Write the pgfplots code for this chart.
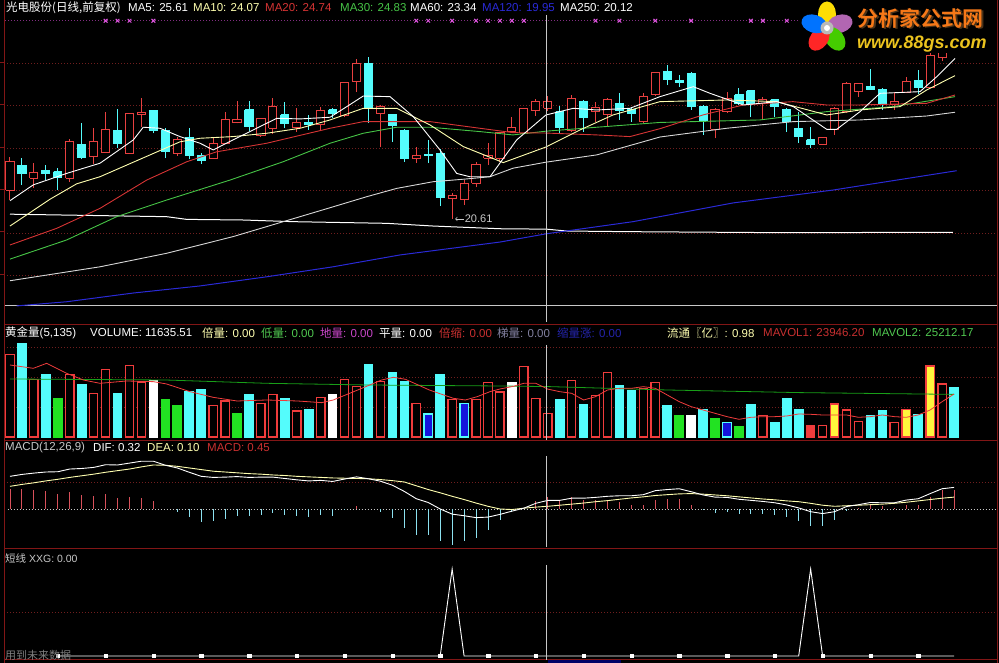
\documentclass[border=0pt]{standalone}
\usepackage{pgfplots}
\pgfplotsset{compat=1.18}
\usepackage{pgfplotstable}
\usepackage{fontspec}
\setmainfont{Liberation Sans}
\newfontfamily\cjk{Noto Sans CJK SC}
\newfontfamily\cjkbold{Noto Sans CJK SC Bold}

\definecolor{candlered}{RGB}{232,64,64}
\definecolor{candlecyan}{RGB}{84,252,252}
\definecolor{maten}{RGB}{255,255,176}
\definecolor{matwenty}{RGB}{214,52,52}
\definecolor{mathirty}{RGB}{70,196,70}
\definecolor{masixty}{RGB}{215,215,215}
\definecolor{mablue}{RGB}{42,42,215}
\definecolor{framered}{RGB}{130,22,22}
\definecolor{gridred}{RGB}{112,30,30}
\definecolor{xmag}{RGB}{225,85,225}
\definecolor{xline}{RGB}{130,45,130}
\definecolor{volred}{RGB}{240,60,60}
\definecolor{volgreen}{RGB}{34,226,34}
\definecolor{volblue}{RGB}{20,20,220}
\definecolor{volyellow}{RGB}{255,245,60}
\definecolor{lowgreen}{RGB}{80,200,80}
\definecolor{dimagenta}{RGB}{200,70,200}
\definecolor{dired}{RGB}{200,48,48}
\definecolor{lilac}{RGB}{130,128,160}
\definecolor{deepblue}{RGB}{36,36,170}
\definecolor{macdred}{RGB}{215,80,90}
\definecolor{macdcyan}{RGB}{140,225,240}
\definecolor{lgrey}{RGB}{200,200,200}
\definecolor{logoorange}{RGB}{245,120,24}
\definecolor{logoyellow}{RGB}{235,195,30}

\newcommand\tf{\fontsize{11.5}{13}\selectfont}

% daily bars: index, open, high, low, close
\pgfplotstableread{
i O H L C
0 22.00 23.60 21.52 23.36
1 23.20 23.53 22.24 22.81
2 22.57 23.32 22.11 22.85
3 22.96 23.20 22.48 22.81
4 22.88 23.05 22.00 22.61
5 22.57 24.44 22.40 24.32
6 24.21 25.21 23.48 23.57
7 23.60 24.97 23.25 24.32
8 23.80 25.77 23.77 24.92
9 24.84 25.88 24.01 24.25
10 23.77 25.72 23.77 25.66
11 25.61 26.41 25.05 25.72
12 25.82 25.85 24.73 24.85
13 24.85 24.97 23.53 23.84
14 23.77 24.57 23.64 24.41
15 24.54 24.97 23.48 23.64
16 23.65 23.77 23.25 23.44
17 23.53 24.57 23.53 24.25
18 24.25 25.77 24.21 25.37
19 25.24 26.28 25.21 25.37
20 25.85 26.28 24.85 25.05
21 24.60 25.45 24.57 25.42
22 24.97 26.41 24.69 26.01
23 25.61 26.23 24.97 25.21
24 25.00 25.93 24.81 25.26
25 25.26 25.61 24.89 25.13
26 25.13 25.98 24.85 25.82
27 25.85 25.93 25.45 25.66
28 25.56 27.21 25.53 27.16
29 27.21 28.29 26.73 28.09
30 28.09 28.38 25.24 25.93
31 25.66 26.09 24.06 26.01
32 25.61 25.66 24.33 25.08
33 24.85 24.92 23.36 23.53
34 23.53 24.09 23.32 23.64
35 23.73 24.41 23.29 23.65
36 23.77 23.96 21.23 21.65
37 21.60 21.87 20.61 21.76
38 21.56 22.48 21.28 22.32
39 22.32 23.36 22.13 23.24
40 23.53 24.25 23.20 23.64
41 23.53 24.81 23.36 24.76
42 24.81 25.50 24.76 25.02
43 24.73 25.96 24.69 25.93
44 25.82 26.36 25.56 26.28
45 25.93 26.52 25.82 26.25
46 25.77 26.04 24.73 25.02
47 24.85 26.57 24.81 26.41
48 26.28 26.33 24.81 25.50
49 25.77 26.25 25.29 25.98
50 25.61 26.41 25.08 26.33
51 26.14 26.68 25.37 25.82
52 25.88 26.01 25.29 25.69
53 25.29 26.68 25.24 26.49
54 26.57 27.69 26.52 27.64
55 27.69 28.01 27.05 27.32
56 27.29 27.53 26.97 27.16
57 27.61 27.66 25.85 26.01
58 26.04 26.09 24.65 25.34
59 24.92 25.93 24.49 25.85
60 25.77 26.73 25.72 26.41
61 26.57 26.89 26.09 26.17
62 26.78 26.81 25.50 26.17
63 26.17 26.46 25.37 26.36
64 26.33 26.36 25.53 26.01
65 25.88 25.93 24.81 25.29
66 24.97 25.77 24.25 24.57
67 24.41 25.02 24.01 24.17
68 24.20 24.57 24.17 24.54
69 24.92 26.01 24.65 25.93
70 25.77 27.21 25.72 27.13
71 26.73 27.13 26.49 27.10
72 27.00 27.81 26.81 26.84
73 26.84 26.89 25.85 26.14
74 26.09 26.73 25.85 26.25
75 26.68 27.42 26.65 27.21
76 27.29 27.77 26.62 26.94
77 26.94 29.00 26.90 28.49
78 28.35 29.90 28.20 29.45
79 29.60 29.95 28.97 29.26
}\candles

% MACD: index, DIF, DEA
\pgfplotstableread{
i DIF DEA
0 1.21 0.84
1 1.28 0.91
2 1.33 0.97
3 1.37 1.04
4 1.38 1.10
5 1.48 1.17
6 1.50 1.23
7 1.54 1.29
8 1.64 1.36
9 1.63 1.42
10 1.70 1.48
11 1.77 1.56
12 1.77 1.63
13 1.62 1.62
14 1.52 1.58
15 1.36 1.52
16 1.21 1.46
17 1.17 1.40
18 1.18 1.37
19 1.20 1.34
20 1.17 1.31
21 1.18 1.29
22 1.18 1.26
23 1.13 1.24
24 1.08 1.21
25 1.04 1.19
26 1.06 1.17
27 1.02 1.15
28 1.11 1.14
29 1.19 1.13
30 1.12 1.12
31 1.03 1.09
32 0.88 1.05
33 0.65 1.00
34 0.38 0.86
35 0.24 0.72
36 0.00 0.60
37 -0.19 0.47
38 -0.25 0.35
39 -0.32 0.22
40 -0.30 0.10
41 -0.20 0.00
42 -0.08 -0.02
43 0.03 0.03
44 0.21 0.07
45 0.32 0.10
46 0.32 0.14
47 0.40 0.18
48 0.40 0.22
49 0.43 0.27
50 0.47 0.31
51 0.49 0.36
52 0.49 0.41
53 0.53 0.45
54 0.68 0.50
55 0.72 0.53
56 0.75 0.56
57 0.64 0.57
58 0.52 0.55
59 0.44 0.52
60 0.43 0.49
61 0.36 0.45
62 0.32 0.41
63 0.28 0.37
64 0.23 0.34
65 0.15 0.30
66 0.04 0.27
67 -0.10 0.21
68 -0.17 0.14
69 -0.10 0.10
70 0.09 0.12
71 0.16 0.14
72 0.24 0.16
73 0.23 0.18
74 0.23 0.21
75 0.33 0.25
76 0.38 0.30
77 0.57 0.35
78 0.75 0.40
79 0.80 0.44
}\macdlines

\pgfplotsset{
  panel/.style={
    scale only axis, width=993pt, anchor=south west,
    xmin=-0.502, xmax=82.594,
    axis line style={draw=none}, tick style={draw=none},
    xtick=\empty, yticklabels={}, major tick length=0pt,
    ymajorgrids, grid style={gridred, line width=0.8pt, dash pattern=on 1pt off 2pt},
    clip=true,
  },
  volbar/.style={ybar, bar width=0.7, bar shift=0pt, line width=1.3pt, forget plot},
}

\begin{document}
\begin{tikzpicture}[x=1pt,y=1pt]
\useasboundingbox (0,0) rectangle (999,663);
\fill[black] (0,0) rectangle (999,663);

%----------------------------------------------------------- price panel
\begin{axis}[panel, at={(4pt,341pt)}, height=308pt,
  ymin=15.657, ymax=30.464, ytick={17.9,19.94,21.98,24.02,26.06,28.1}]
% support line along the bottom
\addplot[lgrey, line width=0.9pt] coordinates {(-0.5,16.43) (82.6,16.43)};
% signal row
\addplot[xline, line width=0.9pt, dash pattern=on 1pt off 2pt] coordinates {(-0.4,30.14) (65.9,30.14)};
\addplot[only marks, mark=x, mark size=2.6pt, xmag, line width=1pt] coordinates {
 (8,30.14) (9,30.14) (10,30.14) (12,30.14) (34,30.14) (35,30.14) (37,30.14) (39,30.14)
 (40,30.14) (41,30.14) (42,30.14) (43,30.14) (49,30.14) (51,30.14) (54,30.14) (57,30.14)
 (62,30.14) (63,30.14) (65,30.14)};
% candles
\pgfplotstablegetrowsof{\candles}
\pgfmathtruncatemacro\nlast{\pgfplotsretval-1}
\pgfplotsforeachungrouped \r in {0,...,\nlast}{%
  \pgfplotstablegetelem{\r}{i}\of\candles\edef\ci{\pgfplotsretval}%
  \pgfplotstablegetelem{\r}{O}\of\candles\edef\co{\pgfplotsretval}%
  \pgfplotstablegetelem{\r}{H}\of\candles\edef\ch{\pgfplotsretval}%
  \pgfplotstablegetelem{\r}{L}\of\candles\edef\cl{\pgfplotsretval}%
  \pgfplotstablegetelem{\r}{C}\of\candles\edef\cc{\pgfplotsretval}%
  \pgfmathsetmacro\xa{\ci-0.34}%
  \pgfmathsetmacro\xb{\ci+0.34}%
  \pgfmathtruncatemacro\isup{\cc>=\co ? 1 : 0}%
  \ifnum\isup=1
    \edef\next{%
      \noexpand\addplot[candlered, line width=1pt, forget plot] coordinates {(\ci,\cl) (\ci,\ch)};%
      \noexpand\addplot[draw=candlered, fill=black, line width=1pt, forget plot] coordinates {(\xa,\co) (\xb,\co) (\xb,\cc) (\xa,\cc) (\xa,\co)};%
    }%
  \else
    \edef\next{%
      \noexpand\addplot[candlecyan, line width=1pt, forget plot] coordinates {(\ci,\cl) (\ci,\ch)};%
      \noexpand\addplot[draw=candlecyan, fill=candlecyan, line width=1pt, forget plot] coordinates {(\xa,\co) (\xb,\co) (\xb,\cc) (\xa,\cc) (\xa,\co)};%
    }%
  \fi
  \next
}
% moving averages
\addplot[white, line width=1pt] coordinates {(0,20.84) (13.11,20.72) (14.79,20.59) (19.52,20.56) (23.71,20.48) (31.52,20.40) (35.42,20.27) (41,20.14) (44.9,20.12) (46.6,20.03) (51.6,20.00) (64.7,19.95) (78.9,19.97)};
\addplot[mablue, line width=1pt] coordinates {(0.56,16.43) (4.74,16.63) (10.32,17.05) (15.90,17.39) (21.48,17.83) (27.03,18.31) (32.64,18.88) (41.00,19.50) (44.91,19.90) (52.13,20.48) (60.50,21.38) (68.87,22.00) (79.22,22.93)};
\addplot[masixty, line width=0.9pt] coordinates {(0,17.64) (7.53,18.31) (13.11,18.96) (18.66,19.76) (24.27,20.72) (26.78,21.15) (29.85,21.68) (32.36,22.08) (35.40,22.40) (37.93,22.52) (40.17,22.64) (42.09,23.05) (44.85,23.34) (49.10,23.69) (54.39,24.55) (59.97,24.97) (65.55,25.29) (71.13,25.37) (76.71,25.56) (79.08,25.74)};
\addplot[mathirty, line width=0.9pt] coordinates {(0,18.68) (4.74,19.60) (8.93,20.72) (13.11,21.52) (18.41,22.48) (22.85,23.36) (26.78,24.25) (29.56,24.73) (32.36,25.02) (35.15,25.02) (39.33,24.81) (42.09,24.65) (44.85,24.83) (49.10,25.02) (54.39,25.25) (62.76,25.37) (68.34,25.77) (73.89,26.01) (79.08,26.49)};
\addplot[matwenty, line width=0.9pt] coordinates {(0,19.36) (3.91,20.16) (7.53,21.12) (11.44,22.48) (14.79,23.36) (17.30,23.84) (21.48,24.25) (26.78,24.97) (29.56,25.29) (35.15,25.29) (39.33,24.97) (42.09,24.76) (44.85,24.74) (49.10,24.65) (51.88,24.57) (54.39,24.95) (57.99,25.61) (61.34,26.09) (65.52,26.25) (68.34,26.09) (71.13,26.09) (76.71,26.17) (79.08,26.57)};
\addplot[maten, line width=0.9pt] coordinates {(0,20.27) (3.35,21.56) (5.58,22.30) (7.53,22.64) (11.72,23.69) (14.23,24.32) (15.90,24.49) (18.66,24.57) (21.48,24.73) (24.27,24.97) (26.78,25.37) (29.56,25.93) (32.36,25.93) (35.15,25.13) (37.93,24.09) (41.28,23.32) (44.85,24.07) (47.70,24.89) (50.46,25.61) (54.39,26.25) (59.97,26.33) (64.16,26.25) (68.34,25.61) (71.13,25.85) (74.48,26.01) (76.71,26.81) (79.08,27.50)};
\addplot[white, line width=0.9pt] coordinates {(0,21.49) (1.95,22.25) (4.74,22.80) (7.53,23.29) (10.32,24.41) (11.15,25.02) (12.55,24.97) (14.23,24.57) (15.90,24.25) (17.01,23.93) (18.66,24.41) (20.64,24.97) (22.32,25.45) (24.27,25.42) (26.78,25.50) (28.18,26.01) (29.56,26.52) (31.80,26.49) (33.75,25.53) (35.98,23.93) (37.38,22.80) (38.49,22.64) (40.17,22.64) (42.40,24.41) (44.85,25.61) (47.14,25.93) (49.10,25.85) (51.88,25.93) (54.39,26.49) (57.18,26.97) (58.58,26.65) (61.36,26.09) (64.16,26.25) (65.55,26.01) (68.34,24.92) (69.18,24.92) (71.13,25.77) (72.80,26.65) (76.15,26.73) (77.55,27.45) (79.08,28.33)};
% lowest price marker
\draw[lgrey, line width=0.7pt, <-] (axis cs:37.25,20.61) -- (axis cs:37.95,20.61)
  node[right, inner sep=1pt, font=\fontsize{11}{12}\selectfont, text=lgrey] {20.61};
\end{axis}

%----------------------------------------------------------- volume panel
\begin{axis}[panel, at={(4pt,223pt)}, height=113pt,
  ymin=-1500, ymax=55000, ytick={15000,30000,45000}]
\addplot[volbar, draw=volred, fill=black] coordinates {(0,41350) (2,28850) (5,31350) (7,21850) (8,33850) (10,35850) (11,27500) (17,15850) (18,18000) (21,16850) (22,21350) (24,13000) (26,19850) (28,28850) (29,25150) (31,27650) (34,16850) (37,18850) (39,18850) (40,27350) (41,22500) (43,35150) (44,19350) (45,11635.51) (47,28350) (49,20850) (50,32350) (53,24350) (54,27350) (63,10850) (68,5850) (70,13500) (71,7850) (74,7350) (78,26500)};
\addplot[volbar, draw=candlecyan, fill=candlecyan] coordinates {(1,46500) (3,31000) (6,26000) (9,21500) (15,22650) (16,23500) (20,21000) (23,19350) (25,13500) (30,36000) (32,32150) (33,27650) (36,31000) (46,18500) (48,16000) (51,25500) (52,23150) (55,15500) (58,13500) (62,16000) (64,7150) (65,19350) (66,13500) (72,10500) (73,13000) (76,11000) (79,24500)};
\addplot[volbar, draw=volgreen, fill=volgreen] coordinates {(4,19350) (13,18500) (14,15500) (19,11850) (56,10500) (59,9350) (61,5000)};
\addplot[volbar, draw=white, fill=white] coordinates {(12,28000) (27,21000) (42,27350) (57,10500)};
\addplot[volbar, draw=candlecyan, fill=volblue] coordinates {(35,11500) (38,16850) (60,7350)};
\addplot[volbar, draw=volred, fill=volyellow] coordinates {(69,16500) (75,13850) (77,35500)};
\addplot[volbar, draw=volred, fill=volred] coordinates {(67,5850)};
\addplot[volgreen!70!black, line width=0.8pt] coordinates {(0,29000) (13,28500) (21.5,26840) (30,26000) (41,25500) (45,25212) (55,23500) (66,22200) (79,21300)};
\addplot[volred, line width=0.8pt] coordinates {(0,36000) (1.95,34340) (3.07,36840) (4.74,31840) (6.14,28500) (7.53,26840) (9.76,28000) (12,27670) (13.11,26500) (15.06,22670) (17,19840) (19,18000) (21.5,18500) (24.07,18000) (26.08,17170) (27.05,18500) (29.1,23500) (31.1,28500) (32.08,29840) (33.1,28840) (35.09,23500) (37.1,19340) (38.1,18500) (39.1,20170) (40.17,22670) (41,24000) (42,25170) (43,26840) (44,26840) (45,23946) (46,22670) (47,21840) (48,18500) (49,20170) (50,23500) (51,24340) (52,24340) (53,25170) (54,24340) (55,21000) (56,17670) (57,15170) (58,13500) (59,11840) (60,10170) (61,8840) (62,9840) (63,10170) (64,10170) (65,10500) (66,11500) (67,11340) (68,11000) (69,11000) (70,11000) (71,9840) (72,10170) (73,11000) (74,10170) (75,9840) (76,11000) (77,13500) (78,17670) (79,21500)};
\end{axis}

%----------------------------------------------------------- MACD panel
\begin{axis}[panel, at={(4pt,116pt)}, height=104pt,
  ymin=-1.4074, ymax=2.4444, ytick={1}]
\addplot[lgrey, line width=0.8pt, dash pattern=on 1pt off 2pt] coordinates {(-0.2,0) (82.6,0)};
\addplot[ycomb, macdred, line width=0.9pt] coordinates {(0,0.74) (1,0.74) (2,0.72) (3,0.65) (4,0.56) (5,0.62) (6,0.53) (7,0.49) (8,0.56) (9,0.41) (10,0.43) (11,0.41) (12,0.28) (29,0.12) (44,0.28) (45,0.45) (46,0.35) (47,0.44) (48,0.35) (49,0.32) (50,0.32) (51,0.25) (52,0.16) (53,0.16) (54,0.35) (55,0.37) (56,0.37) (57,0.14) (71,0.04) (72,0.16) (73,0.10) (74,0.04) (75,0.16) (76,0.16) (77,0.44) (78,0.69) (79,0.72)};
\addplot[ycomb, macdcyan, line width=0.9pt] coordinates {(14,-0.12) (15,-0.31) (16,-0.49) (17,-0.46) (18,-0.37) (19,-0.27) (20,-0.27) (21,-0.21) (22,-0.15) (23,-0.21) (24,-0.25) (25,-0.30) (26,-0.21) (27,-0.25) (28,-0.05) (31,-0.12) (32,-0.33) (33,-0.70) (34,-0.95) (35,-0.95) (36,-1.20) (37,-1.32) (38,-1.20) (39,-1.07) (40,-0.79) (41,-0.40) (42,-0.12) (58,-0.05) (59,-0.15) (60,-0.12) (61,-0.17) (62,-0.17) (63,-0.17) (64,-0.21) (65,-0.30) (66,-0.46) (67,-0.62) (68,-0.62) (69,-0.40) (70,-0.06)};
\addplot[maten, line width=0.9pt] table[x=i, y=DEA] {\macdlines};
\addplot[white, line width=0.9pt] table[x=i, y=DIF] {\macdlines};
\end{axis}

%----------------------------------------------------------- short-line signal panel
\begin{axis}[panel, at={(4pt,3pt)}, height=110pt,
  ymin=-4.598, ymax=121.84, ytick={50}]
\addplot[white, line width=0.9pt] coordinates {(4,0) (36,0) (37,100) (38,0) (66,0) (67,100) (68,0) (79,0)};
\addplot[only marks, mark=square*, mark size=1.7pt, white] coordinates {(4,0) (8,0) (12,0) (16,0) (20,0) (24,0) (28,0) (32,0) (36,0) (40,0) (44,0) (48,0) (52,0) (56,0) (60,0) (64,0) (68,0) (72,0) (76,0)};
\end{axis}

%----------------------------------------------------------- frames and cursor
\begin{scope}[framered, line width=1pt]
\draw (4,0) -- (4,663);
\draw (997.5,0) -- (997.5,663);
\draw (4,663-324.5) -- (997.5,663-324.5);
\draw (4,663-441) -- (997.5,663-441);
\draw (4,663-548.5) -- (997.5,663-548.5);
\draw (4,663-660) -- (997.5,663-660);
\foreach \yy in {63,105,148,190,232,275} \draw (0,663-\yy) -- (4,663-\yy);
\end{scope}
\fill[blue!40!black] (548,0) rectangle (621,2.5);
\begin{scope}[lgrey, line width=0.9pt]
\draw (546.5,663-15) -- (546.5,663-322);
\draw (546.5,663-345) -- (546.5,663-440);
\draw (546.5,663-456) -- (546.5,663-547);
\draw (546.5,663-565) -- (546.5,663-660);
\end{scope}

%----------------------------------------------------------- panel titles
\tikzset{lab/.style={anchor=west, inner sep=0pt, font=\tf}}
\node[lab, white] at (6,655) {\cjk 光电股份(日线,前复权)};
\node[lab, white] at (128,655) {MA5: 25.61};
\node[lab, maten] at (193,655) {MA10: 24.07};
\node[lab, matwenty] at (265,655) {MA20: 24.74};
\node[lab, mathirty] at (340,655) {MA30: 24.83};
\node[lab, white] at (410,655) {MA60: 23.34};
\node[lab, mablue] at (482,655) {MA120: 19.95};
\node[lab, white] at (560,655) {MA250: 20.12};

\node[lab, white] at (5,330) {{\cjk 黄金量}(5,135)};
\node[lab, white] at (90,330) {VOLUME: 11635.51};
\node[lab, maten] at (202,330) {{\cjk 倍量}: 0.00};
\node[lab, lowgreen] at (261,330) {{\cjk 低量}: 0.00};
\node[lab, dimagenta] at (320,330) {{\cjk 地量}: 0.00};
\node[lab, white] at (379,330) {{\cjk 平量}: 0.00};
\node[lab, dired] at (439,330) {{\cjk 倍缩}: 0.00};
\node[lab, lilac] at (497,330) {{\cjk 梯量}: 0.00};
\node[lab, deepblue] at (557,330) {{\cjk 缩量涨}: 0.00};
\node[lab, maten] at (667,330) {{\cjk 流通〖亿〗}: 0.98};
\node[lab, dired] at (763,330) {MAVOL1: 23946.20};
\node[lab, lowgreen] at (872,330) {MAVOL2: 25212.17};

\node[lab, lgrey] at (5,215) {MACD(12,26,9)};
\node[lab, white] at (93,215) {DIF: 0.32};
\node[lab, maten] at (147,215) {DEA: 0.10};
\node[lab, dired] at (207,215) {MACD: 0.45};

\node[lab, lgrey, font=\fontsize{10.5}{12}\selectfont] at (5,105) {{\cjk 短线} XXG: 0.00};
\node[lab, gray, font=\fontsize{11}{12}\selectfont] at (5,8) {\cjk 用到未来数据};

%----------------------------------------------------------- site badge
\fill[black] (799,663-53) rectangle (996.5,663);
\begin{scope}[shift={(827,635)}]
\foreach \ang/\col in {90/{yellow!80!orange}, 18/{violet!60!white}, -54/{green!55!lime!80!black}, -126/{red!80!pink}, 162/{blue!55!cyan}}
  \fill[\col, rotate=\ang] (13.5,0) ellipse (13 and 9);
\fill[gray!55] (0,0) circle (6.5);
\fill[white] (0,0) circle (3);
\end{scope}
\node[anchor=west, inner sep=0pt, text=black!60!brown] at (859,643.5) {\cjkbold\fontsize{21}{22}\selectfont 分析家公式网};
\node[anchor=west, inner sep=0pt, text=logoorange] at (857.5,645) {\cjkbold\fontsize{21}{22}\selectfont 分析家公式网};
\node[anchor=west, inner sep=0pt, text=logoyellow] at (857,619) {\bfseries\itshape\fontsize{18}{19}\selectfont www.88gs.com};
\end{tikzpicture}
\end{document}
